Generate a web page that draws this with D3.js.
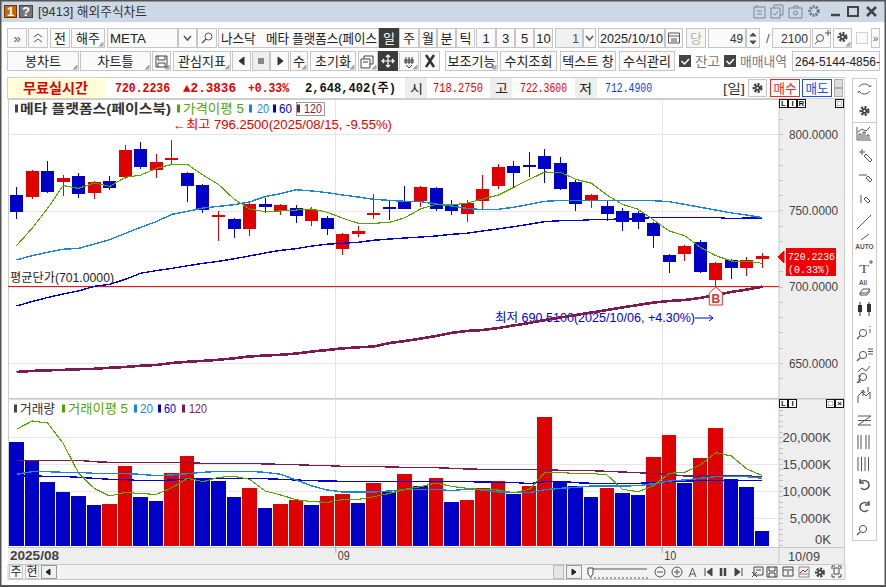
<!DOCTYPE html>
<html>
<head>
<meta charset="utf-8">
<script src="https://d3js.org/d3.v7.min.js"></script>
<style>
  html, body { margin: 0; padding: 0; background: #fff; overflow: hidden; }
  svg { display: block; }
  text { font-family: "Liberation Sans", "Noto Sans CJK KR", sans-serif; white-space: pre; }
</style>
</head>
<body>
<script>
// daily candles
var opens = [760.0,759.0,775.8,768.6,772.5,761.4,769.2,771.8,790.2,776.6,783.2,774.5,766.6,746.5,744.3,738.0,754.1,749.6,751.5,743.0,745.0,724.7,734.5,747.8,752.2,755.5,756.1,764.6,753.5,747.6,756.1,765.9,779.0,779.7,785.6,781.0,768.6,756.5,752.8,749.6,748.3,741.7,720.7,721.4,729.3,704.4,717.5,712.2,718.275];
var highs = [765.3,776.4,782.3,773.1,774.5,769.2,772.5,792.8,794.8,786.9,796.25,775.1,767.0,749.6,745.0,756.1,758.1,754.1,753.5,752.2,746.3,735.2,739.7,760.7,756.8,765.9,765.9,765.3,756.8,756.8,773.1,780.3,782.3,788.2,790.2,784.9,769.9,760.7,756.1,751.5,749.6,742.4,721.4,727.3,730.6,716.2,718.1,719.4,722.36];
var lows = [744.3,757.6,761.4,759.4,758.3,757.6,763.5,770.5,777.1,771.2,780.1,755.5,748.5,729.9,731.9,733.2,748.5,746.9,741.7,739.7,733.8,720.7,732.5,744.3,743.7,750.9,752.2,749.6,746.9,742.4,750.9,764.0,765.3,771.8,767.9,763.3,749.6,751.5,743.0,736.5,737.8,725.3,709.0,716.8,709.0,690.51,705.0,707.0,712.49];
var closes = [749.1,775.8,762.2,771.2,760.9,768.6,764.8,789.5,778.4,781.7,784.3,765.9,750.4,746.9,738.0,754.1,752.2,753.5,746.5,750.2,737.8,734.5,736.5,748.3,750.9,750.9,765.3,750.9,749.6,754.8,764.0,778.4,774.5,779.3,777.1,764.0,754.1,760.0,747.6,742.4,742.4,733.2,716.2,726.6,709.6,715.5,712.2,717.5,720.2236];

// price moving averages
var ma5 = [726.9,738.2,751.3,766.2,764.4,767.9,765.7,771.6,773.1,777.5,780.1,780.1,773.1,767.0,757.4,750.9,749.1,749.6,750.2,750.9,748.7,744.8,741.5,741.5,742.1,745.2,750.9,753.9,753.5,754.8,757.4,760.0,765.1,770.3,775.1,774.9,770.3,767.7,760.0,753.9,750.7,743.7,736.5,733.4,725.8,720.3,716.8,716.6,715.3];
var ma20 = [717.5,720.3,722.5,724.5,725.1,727.9,730.8,734.9,738.9,742.6,747.4,749.3,751.5,752.6,753.7,755.5,759.0,760.9,763.5,762.7,761.6,760.0,758.7,757.2,756.5,755.9,755.7,754.1,752.8,751.3,750.4,750.7,752.0,753.9,755.9,756.5,756.5,756.5,756.5,756.5,756.5,756.3,755.7,753.9,752.0,750.2,748.3,746.9,745.2];
var ma60 = [687.3,690.3,692.9,695.2,697.2,700.2,701.6,704.8,708.8,710.5,712.0,713.7,715.3,716.6,718.3,720.1,722.1,723.8,724.9,726.6,727.8,728.4,729.1,730.4,731.2,731.9,732.5,733.2,734.3,735.0,736.5,737.8,739.3,740.9,742.6,743.2,743.2,743.9,744.1,744.3,744.5,745.4,745.4,745.4,745.4,745.4,744.5,745.0,744.8];
var ma120 = [644.1,644.8,645.2,645.5,645.9,646.2,646.9,647.4,648.2,648.7,650.0,650.8,651.4,652.1,653.1,654.3,654.9,655.4,656.2,657.5,658.5,659.6,660.3,660.8,663.1,664.4,666.0,667.7,669.7,671.0,671.6,672.9,674.6,676.2,678.2,679.8,681.4,683.1,684.7,686.4,688.0,689.6,690.6,691.3,692.6,694.5,696.5,698.1,700.0];

// volume in thousands of shares
var volumes = [19075,15618,11667,9815,9074,7408,7593,14630,8889,8148,13334,16482,12408,11852,8889,10556,6852,7593,8334,7408,9074,9445,7778,11482,9815,13148,10926,12408,7963,8334,10556,11852,9445,10926,23704,11852,10926,8889,10556,9630,9260,16297,20371,11482,16112,21667,12223,10741,2648];
var volMa5 = [21420,22964,22593,18828,13272,10494,9074,9753,9506,9383,10618,12346,11729,12531,12716,12161,10000,9260,8395,8025,7901,8395,8457,8951,9568,10309,10803,11482,10864,10494,10247,10185,9692,10309,13395,13395,13272,13272,12963,10309,9877,10988,13272,13457,14815,17099,16482,14074,12840];
var volMa20 = [13087,13581,13581,13457,13457,13272,13210,13210,13087,12840,12963,13210,13457,13642,13642,13642,13457,13087,12037,10926,10185,9815,9815,9815,10000,10247,10309,10309,10062,10371,10185,9815,9692,9692,10247,10494,10679,10926,10926,10926,10988,11358,11852,12037,12346,12655,12655,12655,12346];
var volMa60 = [12840,12778,12716,12716,12531,12346,12161,12099,11914,11914,12037,12161,12223,12284,12346,12346,12284,12161,12037,11914,11852,11790,11790,11790,11790,11790,11790,11790,11790,11729,11667,11605,11605,11358,11729,11790,11543,11420,11420,11420,11420,11543,11729,11852,11914,11914,11914,11976,11914];
var volMa120 = [15679,15679,15679,15679,15679,15433,15309,15309,15309,15309,15309,15247,15124,15124,15124,15124,15000,14939,14877,14753,14692,14568,14568,14568,14445,14383,14383,14321,14198,14074,14013,14013,14013,14013,13951,13828,13828,13766,13642,13519,13395,13210,13087,12778,12778,12778,12840,12778,12655];

var priceTicks = [800, 750, 700, 650];
var priceMinor = d3.range(640, 830, 10);
var volTicks = [20000, 15000, 10000, 5000, 0];
var volMinor = d3.range(0, 25001, 1000);
var monthLabels = ["09", "10"];
var monthStarts = [21, 42];
var avgPrice = 701;
var lowIndex = 45;
var lastPrice = "720.2236";
var lastPct = "(0.33%)";

var RED = "#df0000", BLUE = "#0000c6", GREEN = "#55a300", SKY = "#1a86d9", NAVY = "#0000d2", MAROON = "#7b1c50";
var MONO = '"Liberation Mono", "Noto Sans CJK KR", monospace';

var svg = d3.select("body").append("svg").attr("width", 886).attr("height", 587);

function box(x, y, w, h, fill, stroke) {
  return svg.append("rect").attr("x", x + 0.5).attr("y", y + 0.5).attr("width", w - 1).attr("height", h - 1)
    .attr("fill", fill || "none").attr("stroke", stroke || "none").attr("shape-rendering", "crispEdges");
}
// text squeezed between two measured x positions
function label(x0, x1, cy, str, color, size, opt) {
  opt = opt || {};
  var t = svg.append("text").attr("x", x0).attr("y", cy + (size || 13) * 0.36)
    .attr("font-size", size || 13).attr("fill", color || "#222").text(str);
  if (x1) t.attr("textLength", x1 - x0).attr("lengthAdjust", "spacingAndGlyphs");
  if (opt.bold) t.attr("font-weight", 700);
  if (opt.mono) t.style("font-family", MONO);
  return t;
}
function centered(cx, cy, str, color, size, opt) {
  return label(cx, null, cy, str, color, size, opt).attr("text-anchor", "middle");
}
function icon(d, color, width, fill) {
  return svg.append("path").attr("d", d).attr("fill", fill || "none").attr("stroke", color || "#555").attr("stroke-width", width || 1);
}
function gear(cx, cy, r) {
  svg.append("circle").attr("cx", cx).attr("cy", cy).attr("r", r).attr("fill", "none")
    .attr("stroke", "#444").attr("stroke-width", 3).attr("stroke-dasharray", "2 1.2");
  svg.append("circle").attr("cx", cx).attr("cy", cy).attr("r", r - 0.8).attr("fill", "#444");
  svg.append("circle").attr("cx", cx).attr("cy", cy).attr("r", 1.1).attr("fill", "#fff");
}
function button(x0, x1, y0, y1, str, opt) {
  opt = opt || {};
  box(x0, y0, x1 - x0, y1 - y0, opt.fill || "#fafafa", opt.stroke || "#c6c6c6");
  if (opt.corner) icon("M" + (x1 - 2) + " " + (y1 - 6) + "V" + (y1 - 2) + "H" + (x1 - 6) + "Z", "#aaa", 1, "#aaa");
  if (str) {
    var t = centered((x0 + x1) / 2, (y0 + y1) / 2, str, opt.color || "#222", opt.size || 13);
    if (opt.len) t.attr("textLength", opt.len).attr("lengthAdjust", "spacingAndGlyphs");
  }
}

// window frame and title bar
box(0, 0, 886, 587, "#ffffff");
svg.append("rect").attr("x", 0).attr("y", 0).attr("width", 886).attr("height", 22).attr("fill", "#ccd9e5");
svg.append("rect").attr("x", 0).attr("y", 0).attr("width", 886).attr("height", 1.5).attr("fill", "#555");
svg.append("rect").attr("x", 0).attr("y", 0).attr("width", 1.5).attr("height", 587).attr("fill", "#555");
svg.append("rect").attr("x", 884.5).attr("y", 0).attr("width", 1.5).attr("height", 587).attr("fill", "#555");
svg.append("rect").attr("x", 0).attr("y", 585).attr("width", 886).attr("height", 2).attr("fill", "#555");
box(4, 5, 13, 13, "#c5670c", "#6d3a05");
centered(10.5, 11.5, "1", "#fff", 13, { bold: true });
box(19, 5, 14, 13, "#777", "#444");
centered(26, 11.5, "?", "#fff", 13, { bold: true });
label(38, 147, 11.5, "[9413] 해외주식차트", "#333", 13);
icon("M754 7h11v11h-11zM757 7v-2M757 11h5M757 14h5", "#7b8691");
icon("M771 8h9v10h-9zM774 8v-3h9v10h-3M773 13l2 2 3-4", "#7b8691");
icon("M789 8h13v10h-13zM793 8l1-2h4l1 2", "#7b8691");
svg.append("circle").attr("cx", 795.5).attr("cy", 13).attr("r", 2).attr("fill", "none").attr("stroke", "#7b8691");
svg.append("circle").attr("cx", 814).attr("cy", 11).attr("r", 4.2).attr("fill", "none").attr("stroke", "#6d7984").attr("stroke-width", 3).attr("stroke-dasharray", "2 1");
icon("M831 15h9", "#444", 2.5);
icon("M848 7h10v9h-10z", "#444", 2);
icon("M867 7l9 9M876 7l-9 9", "#444", 2.5);

// toolbar row 1
button(7, 27, 28, 48, "»", { color: "#555" });
button(28, 48, 28, 48);
icon("M34 37l4-3 4 3M34 42l4-3 4 3", "#555");
button(50, 70, 28, 48, "전");
button(71, 105, 28, 48, "해주", { corner: true });
button(107, 178, 28, 48);
label(110, 146, 38, "META", "#222", 13);
button(178, 197, 28, 48);
icon("M184 36l3.5 4 3.5-4", "#555", 1.5);
button(197, 217, 28, 48);
svg.append("circle").attr("cx", 208.5).attr("cy", 36.5).attr("r", 3.5).attr("fill", "none").attr("stroke", "#555");
icon("M206 39l-4 4", "#555", 1.2);
button(218, 379, 28, 48);
label(221, 377, 38, "나스닥   메타 플랫폼스(페이스", "#222", 13);
button(379, 399, 28, 48, "일", { fill: "#3c3c3c", stroke: "#3c3c3c", color: "#fff" });
button(399, 419, 28, 48, "주");
button(419, 437, 28, 48, "월");
button(437, 456, 28, 48, "분");
button(456, 475, 28, 48, "틱");
button(476, 496, 28, 48, "1");
button(496, 515, 28, 48, "3");
button(515, 534, 28, 48, "5");
button(534, 553, 28, 48, "10");
button(555, 583, 28, 48, null, { fill: "#f0f0f0" });
label(572, null, 38, "1", "#555", 13);
button(583, 596, 28, 48);
icon("M586 36l3.5 4 3.5-4", "#555", 1.5);
button(598, 665, 28, 48);
label(600, 663, 38, "2025/10/10", "#222", 13);
button(665, 683, 28, 48);
icon("M668.5 33h11v10h-11zM668.5 36h11M671 39h6M671 41h6", "#555");
button(686, 706, 28, 48, "당", { fill: "#f6f6f6", color: "#b5b0a5" });
button(708, 746, 28, 48);
label(730, 743, 38, "49", "#333", 13);
button(746, 760, 28, 48);
icon("M750 36l3-3 3 3z M750 41l3 3 3-3z", "#555", 1, "#555");
label(766, null, 38, "/", "#555", 13);
button(772, 811, 28, 48);
label(781, 808, 38, "2100", "#333", 13);
button(812, 831, 28, 48);
svg.append("circle").attr("cx", 820).attr("cy", 38).attr("r", 3.5).attr("fill", "none").attr("stroke", "#555");
icon("M818 41l-3 3M825 33h6M828 30v6", "#555");
button(833, 852, 28, 48, null, { corner: true });
gear(842.5, 37, 3.5);
button(856, 868, 32, 44, null, { stroke: "#d0d0d0" });
button(871, 880, 28, 48, "»", { color: "#555", size: 10 });

// toolbar row 2
button(7, 79, 51, 71, "봉차트", { corner: true });
button(80, 151, 51, 71, "차트틀", { corner: true });
button(152, 171, 51, 71, null, { corner: true });
icon("M156 56h11v11h-11zM158 56v4h7v-4M158 67v-4h7v4", "#444");
button(173, 231, 51, 71, "관심지표", { corner: true });
button(232, 251, 51, 71);
icon("M239 61l5-4v8z", "#333", 1, "#333");
button(252, 270, 51, 71, null, { fill: "#eeeeee" });
svg.append("rect").attr("x", 258).attr("y", 58).attr("width", 6).attr("height", 6).attr("fill", "#888");
button(270, 289, 51, 71);
icon("M283 61l-5-4v8z", "#333", 1, "#333");
button(290, 308, 51, 71, "수", { corner: true });
button(310, 356, 51, 71, "초기화", { corner: true });
button(358, 378, 51, 71, null, { corner: true });
icon("M361 59h9v9h-9zM364 59v-3h9v8h-3M363 62h5", "#444");
button(378, 398, 51, 71, null, { fill: "#3c3c3c", stroke: "#3c3c3c" });
icon("M388 55v12M382 61h12M386 57l2-2 2 2M386 65l2 2 2-2M384 59l-2 2 2 2M392 59l2 2-2 2", "#fff", 1.2);
button(399, 419, 51, 71, null, { corner: true });
icon("M406 57v7M409 57v7M412 57v7M404 60h10M404 62h10M406 65l3 3 3-3", "#333");
button(420, 440, 51, 71);
icon("M426 55l8 12M434 55l-8 12", "#333", 2.5);
button(445, 498, 51, 71, "보조기능", { corner: true });
button(500, 557, 51, 71, "수치조회");
button(560, 616, 51, 71, "텍스트 창");
button(619, 675, 51, 71, "수식관리");
box(679, 55, 12, 12, "#444", "#444");
icon("M681.5 61l3 3 4.5-5", "#fff", 1.5);
label(695, 720, 61, "잔고", "#777", 13);
box(724, 55, 12, 12, "#444", "#444");
icon("M726.5 61l3 3 4.5-5", "#fff", 1.5);
label(740, 787, 61, "매매내역", "#777", 13);
button(792, 880, 51, 71);
label(795, 880, 61, "264-5144-4856-", "#222", 12.5);

// quote strip
box(7, 77, 838, 22, "#ffffff", "#d0d0d0");
svg.append("rect").attr("x", 8).attr("y", 78).attr("width", 98).attr("height", 20).attr("fill", "#ffffd8");
label(23, 88, 88, "무료실시간", RED, 14, { bold: true });
label(115, 170, 88, "720.2236", RED, 12, { bold: true, mono: true });
label(183, 236, 88, "▲2.3836", RED, 12, { bold: true, mono: true });
label(248, 289, 88, "+0.33%", RED, 12, { bold: true, mono: true });
label(305, 396, 88, "2,648,402(주)", "#111", 12, { bold: true, mono: true });
svg.append("rect").attr("x", 405).attr("y", 78).attr("width", 22).attr("height", 20).attr("fill", "#eeeeee");
label(410, 423, 88, "시", "#222", 13);
label(433, 483, 88, "718.2750", RED, 12, { mono: true });
svg.append("rect").attr("x", 490).attr("y", 78).attr("width", 22).attr("height", 20).attr("fill", "#eeeeee");
label(495, 508, 88, "고", "#222", 13);
label(520, 567, 88, "722.3600", RED, 12, { mono: true });
svg.append("rect").attr("x", 575).attr("y", 78).attr("width", 22).attr("height", 20).attr("fill", "#eeeeee");
label(579, 592, 88, "저", "#222", 13);
label(605, 652, 88, "712.4900", "#0b3fd6", 12, { mono: true });
label(723, 745, 88, "[일]", "#333", 13);
button(748, 767, 79, 97);
gear(757.5, 88, 3.5);
button(770, 800, 79, 97, "매수", { stroke: "#d83030", color: "#d83030", len: 23 });
button(802, 832, 79, 97, "매도", { stroke: "#2050d8", color: "#2050d8", len: 23 });
box(834, 79, 9, 9, "#ddd", "#aaa");
box(834, 88, 9, 9, "#ddd", "#aaa");

// panels
box(8, 99, 837, 466, "#ffffff", "#cccccc");
svg.append("rect").attr("x", 779).attr("y", 99).attr("width", 65).attr("height", 448).attr("fill", "#eeeeee");
svg.append("rect").attr("x", 8).attr("y", 547).attr("width", 836).attr("height", 17).attr("fill", "#eeeeee");
icon("M8 398.5H845M8 547.5H845M8 564.5H845M779 99V564", "#c8c8c8");
icon("M8 399.5H845", "#dddddd");

// scales
var x = d3.scalePoint().domain(d3.range(opens.length)).range([16.5, 762.4]);
var yP = d3.scaleLinear().domain([650, 800]).range([363, 134]);
var yV = d3.scaleLinear().domain([0, 20000]).range([545, 437]);
var gridOffset = 0.8;

// gridlines
var grid = svg.append("g").attr("stroke", "#e6e6e6").attr("shape-rendering", "crispEdges");
grid.selectAll(".gp").data(priceTicks).enter().append("line")
  .attr("x1", 9).attr("x2", 779)
  .attr("y1", function (d) { return yP(d) + gridOffset; }).attr("y2", function (d) { return yP(d) + gridOffset; });
grid.selectAll(".gv").data(volTicks.slice(0, 4)).enter().append("line")
  .attr("x1", 9).attr("x2", 779)
  .attr("y1", function (d) { return yV(d); }).attr("y2", function (d) { return yV(d); });
monthStarts.forEach(function (i) {
  var gx = x(i) - 7;
  grid.append("line").attr("x1", gx).attr("x2", gx).attr("y1", 100).attr("y2", 398);
  grid.append("line").attr("x1", gx).attr("x2", gx).attr("y1", 400).attr("y2", 547);
});

// axes
var priceMinorAxis = d3.axisRight(yP).tickValues(priceMinor).tickSize(4).tickFormat("");
var gPm = svg.append("g").attr("transform", "translate(779,0)").call(priceMinorAxis);
gPm.select(".domain").remove();
gPm.selectAll("line").attr("stroke", "#c4c4c4").attr("shape-rendering", "crispEdges");

var priceAxis = d3.axisRight(yP).tickValues(priceTicks).tickSize(0).tickPadding(59).tickFormat(d3.format(".4f"));
var gP = svg.append("g").attr("transform", "translate(779,0)").call(priceAxis);
gP.select(".domain").remove();
gP.selectAll("text").attr("text-anchor", "end").attr("fill", "#444").attr("font-size", 13)
  .attr("textLength", 49).attr("lengthAdjust", "spacingAndGlyphs");

var volMinorAxis = d3.axisRight(yV).tickValues(volMinor).tickSize(4).tickFormat("");
var gVm = svg.append("g").attr("transform", "translate(779,0)").call(volMinorAxis);
gVm.select(".domain").remove();
gVm.selectAll("line").attr("stroke", "#c4c4c4").attr("shape-rendering", "crispEdges");

var volAxis = d3.axisRight(yV).tickValues(volTicks).tickSize(0).tickPadding(52)
  .tickFormat(function (d) { return d3.format(",")(d) + "K"; });
var gV = svg.append("g").attr("transform", "translate(779,0)").call(volAxis);
gV.select(".domain").remove();
gV.selectAll("text").attr("text-anchor", "end").attr("fill", "#444").attr("font-size", 13);
gV.selectAll("text").filter(function (d) { return d === 0; }).attr("dy", "-0.08em");

// x axis strip
label(10, 59, 555.5, "2025/08", "#444", 13, { bold: true });
monthStarts.forEach(function (i, k) {
  label(x(i) - 5, x(i) + 7, 555.5, monthLabels[k], "#444", 13);
  icon("M" + (x(i) - 7) + " 547v6", "#aaa");
});
label(788, 820, 556, "10/09", "#444", 13);

// volume bars, red when higher than the day before
svg.append("g").attr("shape-rendering", "crispEdges")
  .selectAll("rect").data(volumes).enter().append("rect")
  .attr("x", function (d, i) { return x(i) - 7.5; })
  .attr("width", 14.5)
  .attr("y", function (d) { return yV(d); })
  .attr("height", function (d) { return yV(0) + 1 - yV(d); })
  .attr("fill", function (d, i) { return i > 0 && d > volumes[i - 1] ? RED : BLUE; });

function drawLine(values, y, color, width) {
  var line = d3.line().x(function (d, i) { return x(i); }).y(function (d) { return y(d); });
  svg.append("path").datum(values).attr("d", line).attr("fill", "none")
    .attr("stroke", color).attr("stroke-width", width).attr("shape-rendering", "crispEdges");
}
drawLine(volMa120, yV, MAROON, 1.4);
drawLine(volMa60, yV, NAVY, 1.4);
drawLine(volMa20, yV, SKY, 1.4);
drawLine(volMa5, yV, GREEN, 1.1);

// average price line
svg.append("line").attr("x1", 8).attr("x2", 779)
  .attr("y1", yP(avgPrice) + 1).attr("y2", yP(avgPrice) + 1)
  .attr("stroke", "#f01010").attr("shape-rendering", "crispEdges");

// annotations, the long term average runs over the low label
label(173, 392, 124.5, "←최고 796.2500(2025/08/15, -9.55%)", RED, 12);
label(495, 695, 318, "최저 690.5100(2025/10/06, +4.30%)", "#0000d8", 12);
icon("M695 318H713M709 315l4 3-4 3", "#0000d8");
label(10, 114, 278, "평균단가(701.0000)", "#222", 12);

// candles
var candles = svg.append("g").attr("shape-rendering", "crispEdges");
candles.selectAll("line").data(opens).enter().append("line")
  .attr("x1", function (d, i) { return x(i); }).attr("x2", function (d, i) { return x(i); })
  .attr("y1", function (d, i) { return yP(highs[i]); })
  .attr("y2", function (d, i) { return yP(lows[i]); })
  .attr("stroke", function (d, i) { return closes[i] >= d ? RED : BLUE; });
candles.selectAll("rect").data(opens).enter().append("rect")
  .attr("x", function (d, i) { return x(i) - 6.5; })
  .attr("width", 13)
  .attr("y", function (d, i) { return yP(Math.max(d, closes[i])); })
  .attr("height", function (d, i) { return Math.max(2, Math.abs(yP(d) - yP(closes[i]))); })
  .attr("fill", function (d, i) { return closes[i] >= d ? RED : BLUE; });

drawLine(ma60, yP, NAVY, 1.4);
drawLine(ma20, yP, SKY, 1.4);
drawLine(ma5, yP, GREEN, 1.1);
drawLine(ma120, yP, MAROON, 2.6);

// buy marker on the low day
var bx = x(lowIndex);
svg.append("path").attr("d", "M" + bx + " 287l6.5 6v12h-13v-12z").attr("fill", "#fff").attr("stroke", "#d83030");
centered(bx, 298.5, "B", "#d83030", 12, { bold: true });

// current price tag
icon("M778 257l6-6v12z", "#f00000", 1, "#f00000");
svg.append("rect").attr("x", 786).attr("y", 248).attr("width", 50).attr("height", 28).attr("fill", "#f00000");
label(788, 835, 255.5, lastPrice, "#fff", 11.5, { mono: true });
label(788, 830, 268.5, lastPct, "#fff", 11.5, { mono: true });

// chart legends
function swatch(x0, cy, color) {
  svg.append("rect").attr("x", x0).attr("y", cy - 4).attr("width", 3).attr("height", 8).attr("fill", color);
}
swatch(15, 108.5, "#444");
label(20, 171, 108.5, "메타 플랫폼스(페이스북)", "#333", 13, { bold: true });
swatch(177, 108.5, GREEN);
label(183, 244, 108.5, "가격이평 5", GREEN, 13);
swatch(249, 108.5, SKY);
label(257, 269, 108.5, "20", SKY, 13);
swatch(273, 108.5, NAVY);
label(279, 292, 108.5, "60", NAVY, 13);
box(296, 102, 29, 14, "#fff", "#999");
swatch(297, 108.5, MAROON);
label(304, 322, 108.5, "120", MAROON, 13);

swatch(14, 408.5, "#444");
label(20, 55, 408.5, "거래량", "#333", 13);
swatch(62, 408.5, GREEN);
label(68, 128, 408.5, "거래이평 5", GREEN, 13);
swatch(134, 408.5, SKY);
label(140, 153, 408.5, "20", SKY, 13);
swatch(158, 408.5, NAVY);
label(164, 176, 408.5, "60", NAVY, 13);
swatch(182, 408.5, MAROON);
label(189, 207, 408.5, "120", MAROON, 13);

// little L I R boxes at the panel corners
function tag(x0, y0, str) {
  box(x0, y0, 9, 9, "#fff", "#111");
  centered(x0 + 4.5, y0 + 4.5, str, "#111", 8, { bold: true });
}
tag(779, 99, "L"); tag(788, 99, "I"); tag(797, 99, "R"); tag(835, 99, "□");
tag(779, 399, "L"); tag(788, 399, "I"); tag(826, 399, "□"); tag(835, 399, "×");

// scroll row
svg.append("rect").attr("x", 9).attr("y", 565).attr("width", 836).attr("height", 14).attr("fill", "#f3f3f3");
icon("M8 579.5H845M8 565V580M845 565V580", "#c8c8c8");
button(9, 23, 565, 579, "주", { size: 12 });
button(25, 39, 565, 579, "현", { size: 12 });
button(41, 57, 565, 579, null, { fill: "#f0f0f0", stroke: "#999" });
icon("M46 572l4-3v6z", "#222", 1, "#222");
button(553, 564, 565, 579, null, { fill: "#e6e6e6", stroke: "#bbb" });
button(566, 582, 565, 579, null, { fill: "#f0f0f0", stroke: "#999" });
icon("M576 572l-4-3v6z", "#222", 1, "#222");
icon("M590 569H647M591 577v2M595 577v2M599 577v2M603 577v2M607 577v2M611 577v2M615 577v2M619 577v2M623 577v2M627 577v2M631 577v2M635 577v2M639 577v2M643 577v2M647 577v2", "#555");
icon("M588 568h5v6l-2.5 3-2.5-3z", "#444", 1, "#fff");
svg.append("circle").attr("cx", 660).attr("cy", 572).attr("r", 5).attr("fill", "none").attr("stroke", "#555");
icon("M657 572h6", "#555");
svg.append("circle").attr("cx", 677).attr("cy", 572).attr("r", 5).attr("fill", "none").attr("stroke", "#555");
icon("M674 572h6M677 569v6", "#555");
icon("M689 577l3.5-9 3.5 9M690 574h5", "#555");
icon("M705 568v8M712 568l-5 4 5 4z", "#444", 1, "#444");
icon("M721 568v8M725 568v8", "#444", 2.5);
icon("M742 568v8M735 568l5 4-5 4z", "#444", 1, "#444");
icon("M754 567h9v8h-9zM752 572l5 5M757 572l-5 5M756 570h5", "#444");
icon("M767 567h10v10h-10zM769 567v4h6v-4M769 577v-4h6v4", "#444");
icon("M783 567h10v9h-10zM783 570h10M787 572h2M787 574h2", "#444");
icon("M799 567h10v10h-10zM799 574h10", "#888");
icon("M800 573l3-3 2 2 3-3", "#c62020");
gear(820, 572.5, 3.5);
icon("M832 569v-3h3M838 566h3v3M841 574v3h-3M835 577h-3v-3M834 568h5v6h-5z", "#444");

// right hand tool column
box(852, 78, 25, 463, "#ffffff", "#cccccc");
icon("M852 122.5H877", "#cccccc");
icon("M859 87c2-4 9-4 11 0l1-2M870 91c-2 4-9 4-11 0l-1 2", "#555");
gear(864.5, 111, 3.5);
icon("M857 127v13h14M859 139v-5h2v5M863 139v-7h2v7M867 139v-4h2v4M858 132l4-3 4 2 4-4", "#555");
icon("M859 152h6M862 149v6M864 156l6 6 2-2-6-6z", "#555");
icon("M859 175h8M866 178l4 4 2-2-4-4z", "#555");
icon("M861 195v8M864 199l4 4 2-2-4-4z", "#555");
icon("M857 229l14-14", "#555");
icon("M861 240l8-6", "#555");
centered(864.5, 247, "AUTO", "#555", 6.5, { bold: true });
label(859, 869, 268, "T", "#555", 13).style("font-family", '"Liberation Serif", serif');
icon("M869 262h4M871 260v4", "#555");
label(859, 867, 283, "All", "#555", 6.5, { bold: true });
icon("M860 293l3-4h7l-3 4zM860 293v2h7l3-4", "#555");
icon("M860 302v14M869 302v14", "#333");
svg.append("rect").attr("x", 858).attr("y", 305).attr("width", 4).attr("height", 7).attr("fill", "#333");
svg.append("rect").attr("x", 867).attr("y", 304).attr("width", 4).attr("height", 8).attr("fill", "#333");
[333, 355, 377, 529].forEach(function (cy) {
  svg.append("circle").attr("cx", 863).attr("cy", cy).attr("r", 3.6).attr("fill", "none").attr("stroke", "#555");
  icon("M860 " + (cy + 3) + "l-3 3", "#555", 1.2);
});
icon("M870 326v1M870 329v4", "#555");
icon("M868 349h5M868 351.5h5M868 354h5", "#555");
icon("M858 372l4-4 4 3 4-5M858 376h3M858 379h3M858 382h3", "#555");
icon("M858 403v-7l4-4 4 4 4-4v7M863 396v-5M861 393l2-3 2 3M868 392v-5", "#555");
icon("M858 416h13L858 425h13M858 420.5h13", "#555");
icon("M858 435v14M861 435v14M866 435v14M869 435v14", "#555");
icon("M858 457v14M861.5 457v14M865 457v14M868.5 457v14", "#555");
icon("M860 482c4-3 9-1 9 3s-5 6-8 3M860 479v4h4", "#555", 1.5);
icon("M869 504c-4-3-9-1-9 3s5 6 8 3M869 501v4h-4", "#555", 1.5);
</script>
</body>
</html>
